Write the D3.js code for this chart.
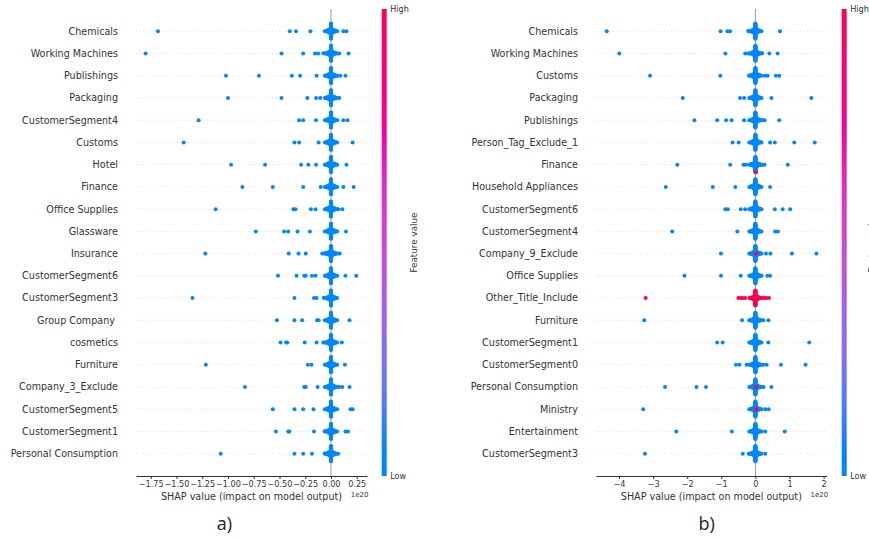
<!DOCTYPE html>
<html lang="en">
<head>
<meta charset="UTF-8">
<title>SHAP summary plots</title>
<script src="https://cdn.jsdelivr.net/npm/d3@7/dist/d3.min.js"></script>
<style>
  body { margin: 0; background: #fff; }
  svg { display: block; font-family: "DejaVu Sans", sans-serif; }
</style>
</head>
<body>
<svg width="869" height="540"></svg>
<script>
// ---- panel a) ----
const featuresA = ["Chemicals", "Working Machines", "Publishings", "Packaging", "CustomerSegment4",
  "Customs", "Hotel", "Finance", "Office Supplies", "Glassware", "Insurance", "CustomerSegment6",
  "CustomerSegment3", "Group Company ", "cosmetics", "Furniture", "Company_3_Exclude",
  "CustomerSegment5", "CustomerSegment1", "Personal Consumption"];
// shap values (x 1e20) of the points away from the central cluster
const lowA = [
  [-1.68, -0.40, -0.34, -0.20, 0.12, 0.15],
  [-1.80, -0.48, -0.27, -0.155, -0.125, -0.075, 0.08, 0.17],
  [-1.02, -0.70, -0.38, -0.30, -0.14, 0.09, 0.14],
  [-1.00, -0.48, -0.23, -0.145, -0.105, 0.08],
  [-1.285, -0.31, -0.27, -0.145, 0.12, 0.16],
  [-1.43, -0.355, -0.31, -0.12, 0.21],
  [-0.97, -0.64, -0.29, -0.22, -0.145, 0.15],
  [-0.86, -0.565, -0.27, -0.10, 0.12, 0.22],
  [-1.12, -0.365, -0.345, -0.195, -0.15, 0.07, 0.11],
  [-0.73, -0.455, -0.415, -0.325, -0.205, 0.145],
  [-1.22, -0.41, -0.315, -0.245, -0.085, -0.06, 0.085],
  [-0.515, -0.335, -0.26, -0.245, -0.185, -0.15, 0.14, 0.245],
  [-1.345, -0.355, -0.165, -0.14, -0.07],
  [-0.525, -0.355, -0.28, -0.135, -0.12, 0.18],
  [-0.49, -0.435, -0.425, -0.255, -0.14, -0.075, 0.105],
  [-1.215, -0.225, -0.19, 0.135],
  [-0.835, -0.26, -0.245, -0.13, 0.08, 0.11, 0.18],
  [-0.565, -0.355, -0.27, -0.17, 0.19, 0.21],
  [-0.535, -0.415, -0.405, -0.165, -0.06, 0.14, 0.165],
  [-1.07, -0.355, -0.27, -0.185, -0.06, 0.07]
];
const highA = featuresA.map(() => []);
// central cluster: [value, number of points]
const coreA = [[-0.06, 1], [-0.04, 4], [-0.02, 10], [0, 50], [0.02, 10], [0.04, 4], [0.06, 1]];
const ticksA = [-1.75, -1.5, -1.25, -1, -0.75, -0.5, -0.25, 0, 0.25];

// ---- panel b) ----
const featuresB = ["Chemicals", "Working Machines", "Customs", "Packaging", "Publishings",
  "Person_Tag_Exclude_1", "Finance", "Household Appliances", "CustomerSegment6", "CustomerSegment4",
  "Company_9_Exclude", "Office Supplies", "Other_Title_Include", "Furniture", "CustomerSegment1",
  "CustomerSegment0", "Personal Consumption", "Ministry", "Entertainment", "CustomerSegment3"];
const lowB = [
  [-4.36, -1.02, -0.82, -0.745, -0.21, 0.72],
  [-3.99, -0.88, -0.30, -0.21, 0.20, 0.41, 0.65],
  [-3.09, -1.03, -0.18, 0.28, 0.36, 0.60, 0.70],
  [-2.13, -0.45, -0.33, 0.47, 1.64],
  [-1.79, -1.12, -0.86, -0.70, -0.33, 0.21, 0.27, 0.70],
  [-0.67, -0.49, 0.43, 0.57, 1.14, 1.74],
  [-2.29, -0.74, -0.35, -0.28, 0.20, 0.27, 0.95],
  [-2.63, -1.25, -0.59, 0.43],
  [-0.88, -0.81, -0.43, -0.30, -0.16, 0.57, 0.80, 1.02],
  [-2.44, -0.53, 0.58, 0.66],
  [-1.01, 0.31, 0.44, 1.07, 1.79],
  [-2.08, -1.01, -0.43, 0.35, 0.43],
  [],
  [-3.26, -0.39, 0.23, 0.38],
  [-1.12, -0.96, 0.38, 1.58],
  [-0.57, -0.47, -0.26, 0.23, 0.33, 0.75, 1.47],
  [-2.65, -1.73, -1.45, 0.24, 0.47],
  [-3.29, 0.29, 0.39],
  [-2.32, -0.69, 0.29, 0.86],
  [-3.24, -0.37, -0.19, 0.29]
];
const highB = [
  [], [], [], [], [], [], [0.02], [], [], [], [0.02], [],
  [-3.22, -0.50, -0.43, -0.37, -0.30, 0.20, 0.27, 0.33, 0.40],
  [], [], [], [0.02], [0.02, 0.02], [], []
];
const coreB = [[-0.18, 1], [-0.12, 4], [-0.06, 10], [0, 50], [0.06, 10], [0.12, 4], [0.18, 1]];
const redCoreB = ["Other_Title_Include"];
const ticksB = [-4, -3, -2, -1, 0, 1, 2];

const svg = d3.select("svg");

// shap red_blue map, interpolated in LCh
const cmap = d3.interpolateHcl(d3.hcl(266.9, 70, 54), d3.hcl(380.3, 90, 54));
const lowColor = d3.rgb(cmap(0)).formatHex();
const highColor = d3.rgb(cmap(1)).formatHex();

const grad = svg.append("defs").append("linearGradient")
    .attr("id", "fv").attr("x1", 0).attr("y1", 1).attr("x2", 0).attr("y2", 0);
d3.range(0, 1.0001, 0.05).forEach(t =>
  grad.append("stop").attr("offset", t).attr("stop-color", cmap(t)));

// beeswarm stacking like shap: 100 bins per row, alternate up/down
function swarm(pts, hiDown) {
  const lo = d3.min(pts, d => d.v), hi = d3.max(pts, d => d.v);
  pts.forEach(d => d.q = Math.round(100 * (d.v - lo) / (hi - lo + 1e-8)));
  const order = pts.map((d, k) => k)
    .sort((a, b) => pts[a].q - pts[b].q || pts[a].hi - pts[b].hi || a - b);
  let layer = 0, last = -1;
  order.forEach(k => {
    const d = pts[k];
    if (d.q !== last) layer = 0;
    d.ys = Math.ceil(layer / 2) * ((layer % 2) * 2 - 1);
    if (d.hi && hiDown) d.ys = -Math.abs(d.ys);
    layer++;
    last = d.q;
  });
}

function drawPanel(p) {
  const n = p.features.length;
  const x = d3.scaleLinear().domain(p.domain).range([p.left, p.right]);
  const y = d3.scaleLinear().domain([-1, n]).range([9, 476]);
  const step = y(1) - y(0);
  const g = svg.append("g");

  g.selectAll("line.row").data(p.features).join("line")
      .attr("class", "row")
      .attr("x1", p.left).attr("x2", p.right)
      .attr("y1", (d, i) => y(i)).attr("y2", (d, i) => y(i))
      .attr("stroke", "#cccccc").attr("stroke-width", 0.6)
      .attr("stroke-dasharray", "1,2.4");

  g.append("line")
      .attr("x1", x(0)).attr("x2", x(0))
      .attr("y1", y(-1)).attr("y2", y(n))
      .attr("stroke", "#999999").attr("stroke-width", 1);

  p.features.forEach((f, i) => {
    const redCore = p.redCore.includes(f);
    const pts = [];
    p.core.forEach(([v, c]) => { for (let k = 0; k < c; k++) pts.push({v: v, hi: redCore}); });
    p.low[i].forEach(v => pts.push({v: v, hi: false}));
    p.high[i].forEach(v => pts.push({v: v, hi: true}));
    swarm(pts, !redCore);
    const sc = 0.36 * step / (d3.max(pts, d => d.ys) + 1);
    pts.sort((a, b) => a.hi - b.hi);
    g.append("g").selectAll("circle").data(pts).join("circle")
        .attr("cx", d => x(d.v))
        .attr("cy", d => y(i) - d.ys * sc)
        .attr("r", 2)
        .attr("fill", d => d.hi ? highColor : lowColor);
  });

  g.selectAll("text.feat").data(p.features).join("text")
      .attr("class", "feat")
      .attr("x", p.left - 18).attr("y", (d, i) => y(i)).attr("dy", "0.35em")
      .attr("text-anchor", "end").attr("font-size", 9.6).attr("fill", "#333")
      .style("white-space", "pre")
      .text(d => d);

  const ax = g.append("g")
      .attr("transform", `translate(0,${y(n)})`)
      .call(d3.axisBottom(x).tickValues(p.ticks).tickFormat(p.fmt)
        .tickSize(3).tickSizeOuter(0).tickPadding(2.7));
  ax.attr("font-family", null).attr("font-size", 8.1);
  ax.select(".domain").attr("stroke", "#333");
  ax.selectAll(".tick line").attr("stroke", "#333");
  ax.selectAll(".tick text").attr("fill", "#333");

  g.append("text")
      .attr("x", (p.left + p.right) / 2).attr("y", 499.5)
      .attr("text-anchor", "middle").attr("font-size", 9.6).attr("fill", "#333")
      .text("SHAP value (impact on model output)");
  g.append("text")
      .attr("x", p.right + 1.5).attr("y", 497)
      .attr("text-anchor", "end").attr("font-size", 7).attr("fill", "#333")
      .text("1e20");

  // colour bar
  g.append("rect")
      .attr("x", p.cbX).attr("y", y(-1)).attr("width", 5).attr("height", y(n) - y(-1))
      .attr("fill", "url(#fv)");
  g.append("text").attr("x", p.cbX + 8.5).attr("y", y(-1)).attr("dy", "0.35em")
      .attr("font-size", 8.1).attr("fill", "#333").text("High");
  g.append("text").attr("x", p.cbX + 8.5).attr("y", y(n)).attr("dy", "0.35em")
      .attr("font-size", 8.1).attr("fill", "#333").text("Low");
  g.append("text")
      .attr("transform", `translate(${p.cbX + p.fvOff},242.5) rotate(-90)`)
      .attr("text-anchor", "middle").attr("font-size", 8.8).attr("fill", "#333")
      .text("Feature value");

  g.append("text")
      .attr("x", p.capX).attr("y", 529.5)
      .attr("text-anchor", "middle")
      .attr("font-family", "'Open Sans', sans-serif").attr("font-size", 18).attr("fill", "#222")
      .text(p.caption);
}

drawPanel({
  features: featuresA, low: lowA, high: highA, core: coreA, redCore: [],
  domain: [-1.893, 0.3495], left: 136, right: 367, ticks: ticksA, fmt: d3.format(".2f"),
  cbX: 381.7, fvOff: 35, capX: 224.5, caption: "a)"
});
drawPanel({
  features: featuresB, low: lowB, high: highB, core: coreB, redCore: redCoreB,
  domain: [-4.675, 2.091], left: 596, right: 826.7, ticks: ticksB, fmt: d3.format("d"),
  cbX: 841.7, fvOff: 33, capX: 706.7, caption: "b)"
});
</script>
</body>
</html>
